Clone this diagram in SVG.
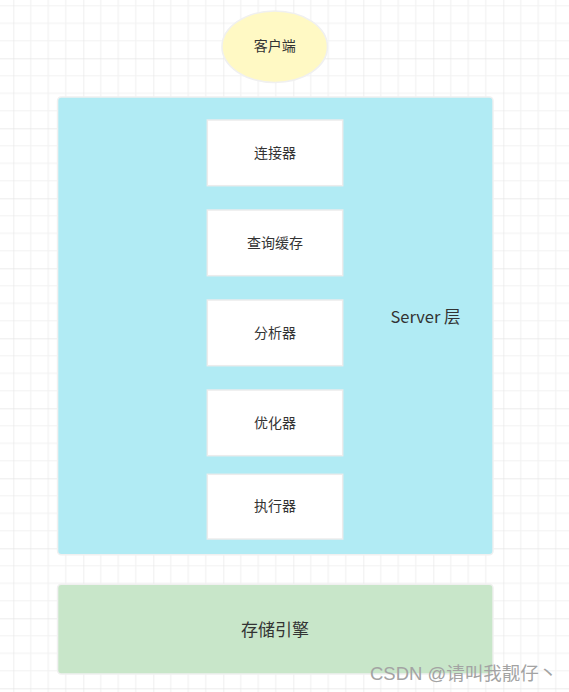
<svg xmlns="http://www.w3.org/2000/svg" width="569" height="692" viewBox="0 0 569 692">
<style>
.lbl{font-family:"Noto Sans CJK SC","Liberation Sans",sans-serif;fill:#333;text-anchor:middle;dominant-baseline:central}
.inner{fill:#fff;stroke:#ececec;stroke-width:1.5}
.halo{fill:none;stroke:#f0f0f0;stroke-width:3}
</style>
<defs>
<pattern id="grid" patternUnits="userSpaceOnUse" x="13.3" y="58.3" width="70" height="70">
<path d="M17.5 0V70M35 0V70M52.5 0V70M0 17.5H70M0 35H70M0 52.5H70" stroke="#f2f2f2" stroke-width="1.2" fill="none"/>
<path d="M0 0V70M0 0H70" stroke="#e6e6e6" stroke-width="1.3" fill="none"/>
</pattern>
</defs>
<rect width="569" height="692" fill="#fff"/>
<rect width="569" height="692" fill="url(#grid)"/>
<g id="client">
<ellipse cx="274.7" cy="46.7" rx="52" ry="35" class="halo"/>
<ellipse cx="274.7" cy="46.7" rx="52" ry="35" fill="#fff9c4"/>
<text class="lbl" x="274.7" y="44.8" font-size="14">客户端</text>
</g>
<g id="server">
<rect x="58.3" y="97.7" width="434" height="456.3" rx="3" class="halo"/>
<rect x="58.3" y="97.7" width="434" height="456.3" rx="3" fill="#b1ebf4"/>
<text class="lbl" x="425.5" y="315.5" font-size="16.5">Server 层</text>
</g>
<g id="connector">
<rect x="207.3" y="120" width="135.4" height="65.7" class="inner"/>
<text class="lbl" x="275" y="151.5" font-size="14">连接器</text>
</g>
<g id="cache">
<rect x="207.3" y="210" width="135.4" height="65.7" class="inner"/>
<text class="lbl" x="275" y="241.5" font-size="14">查询缓存</text>
</g>
<g id="analyzer">
<rect x="207.3" y="300" width="135.4" height="65.7" class="inner"/>
<text class="lbl" x="275" y="331.5" font-size="14">分析器</text>
</g>
<g id="optimizer">
<rect x="207.3" y="390" width="135.4" height="65.7" class="inner"/>
<text class="lbl" x="275" y="421.5" font-size="14">优化器</text>
</g>
<g id="executor">
<rect x="207.3" y="474.3" width="135.4" height="64.7" class="inner"/>
<text class="lbl" x="275" y="505" font-size="14">执行器</text>
</g>
<g id="engine">
<rect x="58.3" y="585" width="434" height="88.3" rx="3" class="halo"/>
<rect x="58.3" y="585" width="434" height="88.3" rx="3" fill="#c8e6c9"/>
<text class="lbl" x="275" y="628.5" font-size="17">存储引擎</text>
</g>
<g id="connectors"></g>
<text x="370" y="680" font-family="'Liberation Sans','Noto Sans CJK SC',sans-serif" font-size="18.5" fill="#a3a3a3">CSDN @请叫我靓仔丶</text>
</svg>
